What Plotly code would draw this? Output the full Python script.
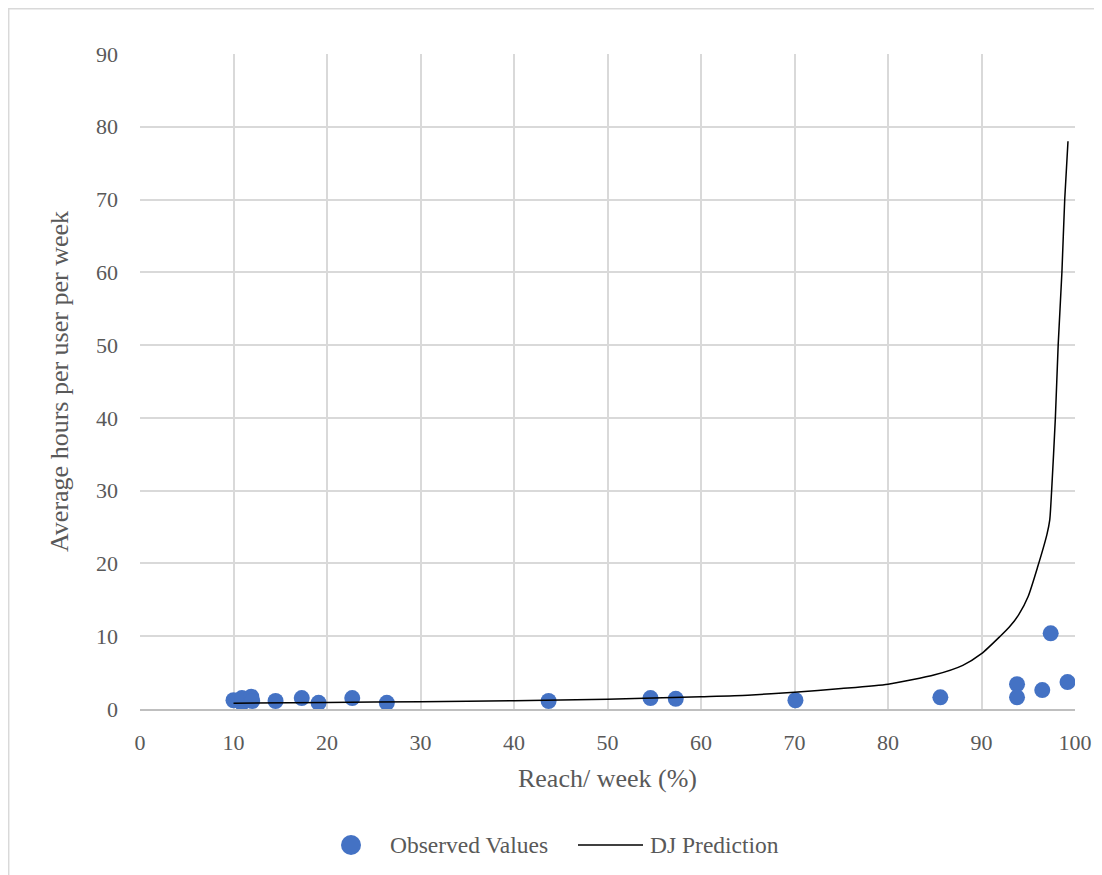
import plotly.graph_objects as go

obs_reach = [10.0, 10.9, 10.9, 11.9, 12.0, 14.5, 17.3, 19.1, 22.7, 26.4,
             43.7, 54.6, 57.3, 70.1, 85.6, 93.8, 93.8, 96.5, 97.4, 99.2]
obs_hours = [1.2, 0.8, 1.5, 1.7, 1.1, 1.1, 1.5, 0.85, 1.5, 0.85,
             1.1, 1.5, 1.4, 1.2, 1.6, 3.4, 1.6, 2.6, 10.4, 3.7]

dj_reach = [10, 20, 30, 40, 50, 60, 65, 70, 75, 80, 85, 88, 90, 92, 93, 94,
            95, 96, 97, 97.3, 97.5, 97.9, 98.2, 98.6, 98.9, 99.25]
dj_hours = [0.8, 0.9, 1.0, 1.15, 1.35, 1.7, 1.9, 2.3, 2.8, 3.4, 4.7, 6.0, 7.6,
            10.0, 11.3, 13.0, 15.5, 19.5, 24.0, 26.0, 30.0, 40.0, 50.0, 60.0,
            70.0, 78.0]

x_ticks = list(range(0, 101, 10))
y_ticks = list(range(0, 91, 10))

series_names = ["Observed Values", "DJ Prediction"]

FONT = "Liberation Serif"
GREY = "#595959"
BLUE = "#4472C4"

# the page body adds an 8px offset; figure is sized to fit the window
OFF = 8
W, H = 1094, 867
L, R, T, B = 132, 27, 46, 166
PW, PH = W - L - R, H - T - B


def px(x):
    """screen x -> paper x"""
    return (x - OFF - L) / PW


def py(y):
    """screen y -> paper y"""
    return (H - B - (y - OFF)) / PH


fig = go.Figure()
fig.add_trace(go.Scatter(
    x=obs_reach, y=obs_hours, mode="markers", name=series_names[0],
    marker=dict(color=BLUE, size=16, line=dict(width=0)), showlegend=False,
))
fig.add_trace(go.Scatter(
    x=dj_reach, y=dj_hours, mode="lines", name=series_names[1],
    line=dict(color="black", width=1.5, shape="spline", smoothing=0.6),
    showlegend=False,
))

# hand-drawn legend to match the reference's spacing
leg_y = 845
r = 10
shapes = [
    dict(type="rect", xref="paper", yref="paper",
         x0=px(8.7), x1=px(1120), y0=py(890), y1=py(8.7),
         line=dict(color="#d9d9d9", width=1.5), fillcolor="rgba(0,0,0,0)",
         layer="below"),
    dict(type="circle", xref="paper", yref="paper",
         x0=px(351 - r), x1=px(351 + r), y0=py(leg_y + r), y1=py(leg_y - r),
         line=dict(width=0), fillcolor=BLUE),
    dict(type="line", xref="paper", yref="paper",
         x0=px(578), x1=px(643), y0=py(leg_y), y1=py(leg_y),
         line=dict(color="black", width=1.5)),
]
annotations = [
    dict(text=series_names[0], xref="paper", yref="paper", x=px(388), y=py(leg_y),
         xanchor="left", yanchor="middle", showarrow=False,
         font=dict(family=FONT, size=23.5, color=GREY)),
    dict(text=series_names[1], xref="paper", yref="paper", x=px(648), y=py(leg_y),
         xanchor="left", yanchor="middle", showarrow=False,
         font=dict(family=FONT, size=23.5, color=GREY)),
]

fig.update_layout(
    width=W, height=H,
    margin=dict(l=L, r=R, t=T, b=B),
    paper_bgcolor="white", plot_bgcolor="white",
    font=dict(family=FONT, color=GREY, size=22),
    showlegend=False,
    xaxis=dict(
        range=[0, 100], tickvals=x_ticks, showgrid=True, gridcolor="#d9d9d9",
        gridwidth=1.5, zeroline=False, showline=True, linecolor="#bfbfbf",
        linewidth=2, ticks="", tickfont=dict(size=22, color=GREY),
        ticklabelstandoff=13, automargin=False,
        title=dict(text="Reach/ week (%)", font=dict(size=26, color=GREY),
                   standoff=14),
    ),
    yaxis=dict(
        range=[0, 90], tickvals=y_ticks, showgrid=True, gridcolor="#d9d9d9",
        gridwidth=1.5, zeroline=False, showline=False, ticks="",
        tickfont=dict(size=22, color=GREY), ticklabelstandoff=21,
        automargin=False,
        title=dict(text="Average hours per user per week",
                   font=dict(size=26, color=GREY), standoff=19),
    ),
    shapes=shapes,
    annotations=annotations,
)

fig.write_html("out.html")
